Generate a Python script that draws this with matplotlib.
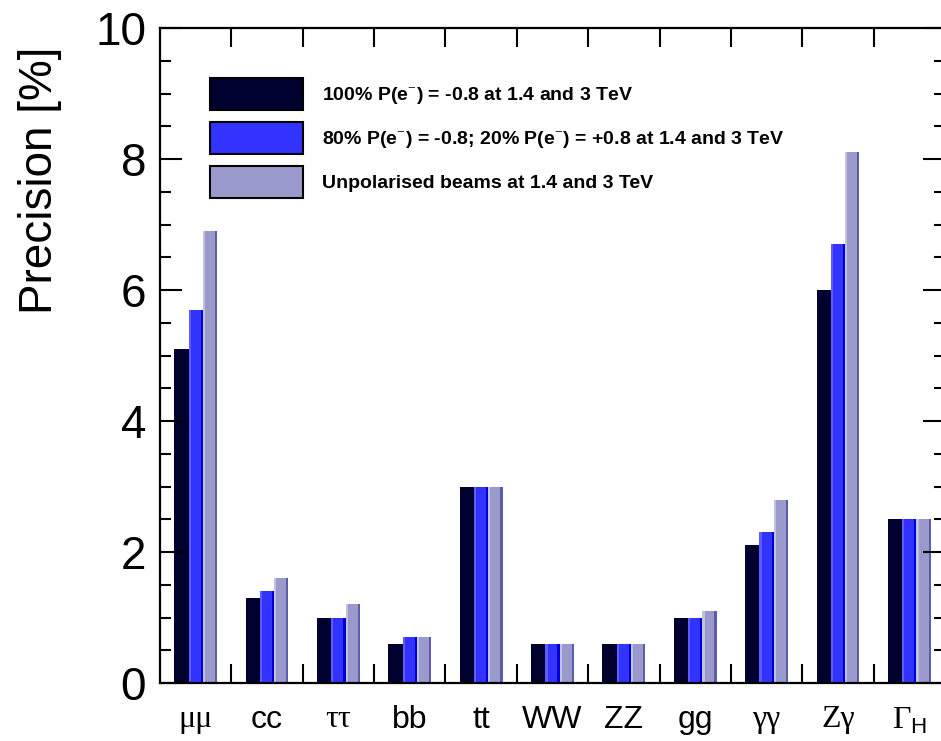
import matplotlib
matplotlib.use("Agg")
import matplotlib.pyplot as plt
from matplotlib.patches import Patch
from matplotlib.ticker import MultipleLocator, FixedLocator
import numpy as np

plt.rcParams['mathtext.fontset'] = 'custom'
plt.rcParams['mathtext.rm'] = 'Liberation Serif'
plt.rcParams['mathtext.sf'] = 'Liberation Sans'

categories = ['μμ', 'cc', 'ττ', 'bb', 'tt', 'WW', 'ZZ', 'gg', 'γγ', 'Zγ', r'$\Gamma_{\mathsf{H}}$']
greek = [True, False, True, False, False, False, False, False, True, True, True]
pol100 = [5.1, 1.3, 1.0, 0.6, 3.0, 0.6, 0.6, 1.0, 2.1, 6.0, 2.5]
pol80 = [5.7, 1.4, 1.0, 0.7, 3.0, 0.6, 0.6, 1.0, 2.3, 6.7, 2.5]
unpol = [6.9, 1.6, 1.2, 0.7, 3.0, 0.6, 0.6, 1.1, 2.8, 8.1, 2.5]
series_labels = ['100% P(e$^{-}$) = -0.8 at 1.4 and 3 TeV',
                 '80% P(e$^{-}$) = -0.8; 20% P(e$^{-}$) = +0.8 at 1.4 and 3 TeV',
                 'Unpolarised beams at 1.4 and 3 TeV']

# (main, left stripe, right stripe)
colors = [('#00002e', '#00002e', '#00002e'),
          ('#3333ff', '#5c5cff', '#0000d6'),
          ('#9999cc', '#c2c2e0', '#5c5caa')]

W, H = 941, 741
fig = plt.figure(figsize=(W / 100, H / 100), dpi=100)
ax = fig.add_axes([160 / W, (H - 683) / H, 785 / W, 655 / H])

x = np.arange(len(categories))
bw = 0.2
sw = 0.15 * bw
for k, vals in enumerate([pol100, pol80, unpol]):
    xs = x - 0.3 + k * bw
    main, lc, rc = colors[k]
    ax.bar(xs, vals, width=bw, align='edge', color=main, linewidth=0)
    ax.bar(xs, vals, width=sw, align='edge', color=lc, linewidth=0)
    ax.bar(xs + bw - sw, vals, width=sw, align='edge', color=rc, linewidth=0)

ax.set_xlim(-0.5, len(categories) - 0.5)
ax.set_ylim(0, 10)

for s in ax.spines.values():
    s.set_linewidth(1.6)

# y axis
ax.yaxis.set_major_locator(MultipleLocator(2))
ax.yaxis.set_minor_locator(MultipleLocator(0.5))
ax.tick_params(axis='y', which='major', direction='in', length=16, width=1.5,
               left=True, right=True, labelsize=33, pad=10)
ax.tick_params(axis='y', which='minor', direction='in', length=8, width=1.5,
               left=True, right=True)
for lbl in ax.get_yticklabels():
    lbl.set_fontfamily('Liberation Sans')

# x axis: boundary ticks, labels at centres
ax.xaxis.set_major_locator(FixedLocator(np.arange(len(categories) - 1) + 0.5))
ax.xaxis.set_minor_locator(FixedLocator(x))
ax.tick_params(axis='x', which='major', direction='in', length=14, width=1.5,
               bottom=True, top=True, labelbottom=False)
ax.tick_params(axis='x', which='minor', length=0, labelsize=23, pad=16)
ax.set_xticks(x, minor=True)
ax.set_xticklabels(categories, minor=True)
for lbl, g in zip(ax.xaxis.get_minorticklabels(), greek):
    lbl.set_fontfamily('Liberation Serif' if g else 'Liberation Sans')

ax.set_ylabel('Precision [%]', fontsize=33, fontfamily='Liberation Sans')
ax.yaxis.set_label_coords(-0.125, 0.768)

fs = 14.0
fpx = fs * 100 / 72
hh = (32 / fpx - 0.245) / 0.65
handles = [Patch(facecolor=c[0], edgecolor='black', linewidth=1.5) for c in colors]
leg = ax.legend(handles, series_labels, loc='upper left',
                bbox_to_anchor=(210 / W, (H - 78) / H), bbox_transform=fig.transFigure,
                frameon=False, borderpad=0, borderaxespad=0,
                handlelength=93 / fpx, handleheight=hh, handletextpad=19 / fpx,
                labelspacing=12 / fpx,
                prop={'family': 'Liberation Sans', 'weight': 'bold', 'size': fs})

fig.savefig('out.png', dpi=100, facecolor='white')
